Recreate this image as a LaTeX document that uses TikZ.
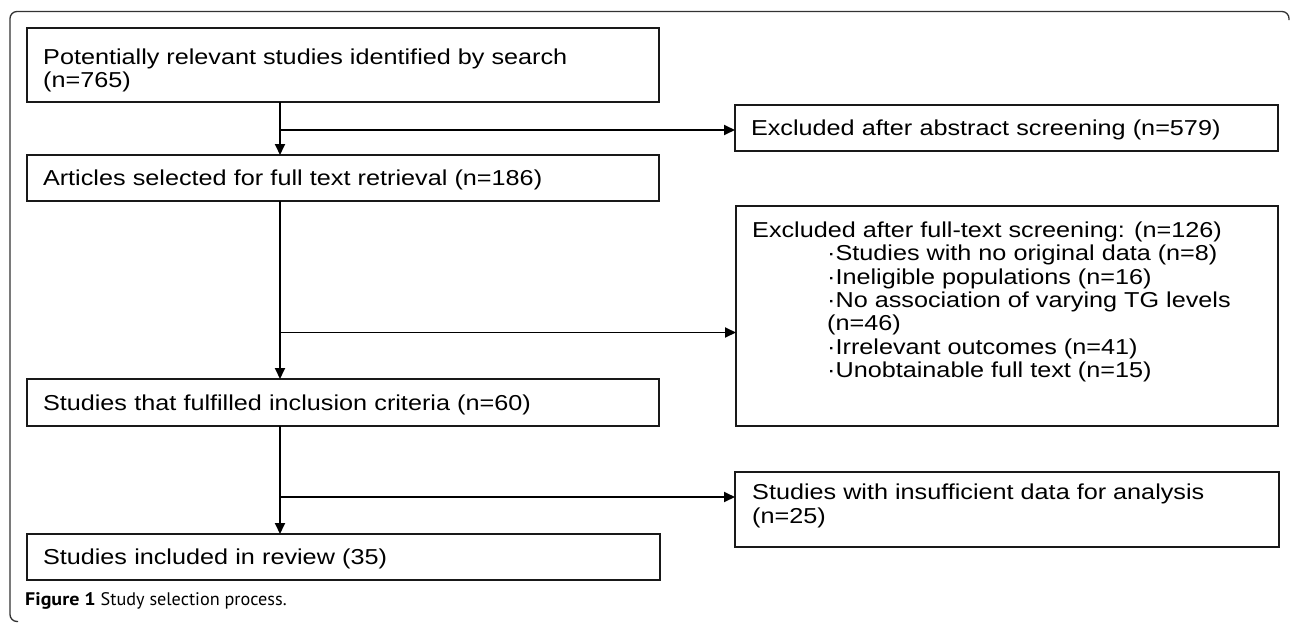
\documentclass[tikz,border=0pt]{standalone}
\usepackage{fontspec}
\setmainfont{Liberation Sans}
\newfontfamily\boxfont[FakeStretch=1.167]{Liberation Sans}
\newfontfamily\capfont[BoldFeatures={FakeStretch=1.1}]{PT Sans}
\usetikzlibrary{arrows.meta}
\begin{document}
\begin{tikzpicture}[x=1pt,y=-1pt,
  box/.style={draw=black!90, line width=1.3pt, rectangle, anchor=north west,
    inner xsep=16pt, inner ysep=0pt, outer sep=0pt,
    font=\boxfont\fontsize{21.6}{23.3}\selectfont,
    text height=15.5pt, text depth=0pt},
  txt/.style={anchor=base west, inner sep=0pt, align=left,
    font=\boxfont\fontsize{21.6}{23.3}\selectfont},
  conn/.style={line width=1.8pt, draw=black},
  arr/.style={conn, -{Triangle[length=11pt,width=10pt]}},
  frame/.style={draw=black!80, line width=1.3pt, rounded corners=7pt}
]
\useasboundingbox (0,0) rectangle (1290,624);
% frame
\draw[frame] (18,621.5) -- (10,621.5) -- (10,11.5) -- (1289,11.5) -- (1289,20);
% left column boxes
\node[box, minimum width=632pt, minimum height=74pt] (b1) at (27,28) {};
% multi-line texts: the anchor is the baseline of the LAST line
\node[txt] (b1t) at (43,87.3) {\setlength{\baselineskip}{28pt}Potentially relevant studies identified by search\\(n=765)};
\node[box, minimum width=632pt, minimum height=46pt, text width=600pt] (b2) at (27,155) {Articles selected for full text retrieval (n=186)};
\node[box, minimum width=632pt, minimum height=47pt, text width=600pt] (b3) at (27,379) {Studies that fulfilled inclusion criteria (n=60)};
\node[box, minimum width=633pt, minimum height=46pt, text width=601pt] (b4) at (27,534) {Studies included in review (35)};
% right column boxes
\node[box, minimum width=543pt, minimum height=46pt, text width=511pt] (e1) at (735,105) {Excluded after abstract screening (n=579)};
\node[box, minimum width=542pt, minimum height=220pt] (e2) at (736,206) {};
\node[txt] (e2a) at (752,237.5) {Excluded after full-text screening: (n=126)};
\node[txt] (e2b) at (827,377.3) {\setlength{\baselineskip}{23.3pt}·Studies with no original data (n=8)\\·Ineligible populations (n=16)\\·No association of varying TG levels\\(n=46)\\·Irrelevant outcomes (n=41)\\·Unobtainable full text (n=15)};
\node[box, minimum width=544pt, minimum height=75pt] (e3) at (735,472) {};
\node[txt] (e3t) at (752,523.2) {\setlength{\baselineskip}{27.5pt}Studies with insufficient data for analysis\\(n=25)};
% connectors
\coordinate (sp) at (280,0);
\coordinate (j1) at (280,130);
\coordinate (j2) at (280,332.5);
\coordinate (j3) at (280,497);
\draw[arr] (sp |- b1.south) -- (sp |- b2.north);
\draw[arr] (j1) -- (j1 -| e1.west);
\draw[arr] (sp |- b2.south) -- (sp |- b3.north);
\draw[arr] (j2) -- (j2 -| e2.west);
\draw[arr] (sp |- b3.south) -- (sp |- b4.north);
\draw[arr] (j3) -- (j3 -| e3.west);
% caption
\node[anchor=base west, inner sep=0pt] (cap) at (25,605) {\capfont\fontsize{18.2}{20}\selectfont\textbf{Figure 1} Study selection process.};
\end{tikzpicture}
\end{document}
